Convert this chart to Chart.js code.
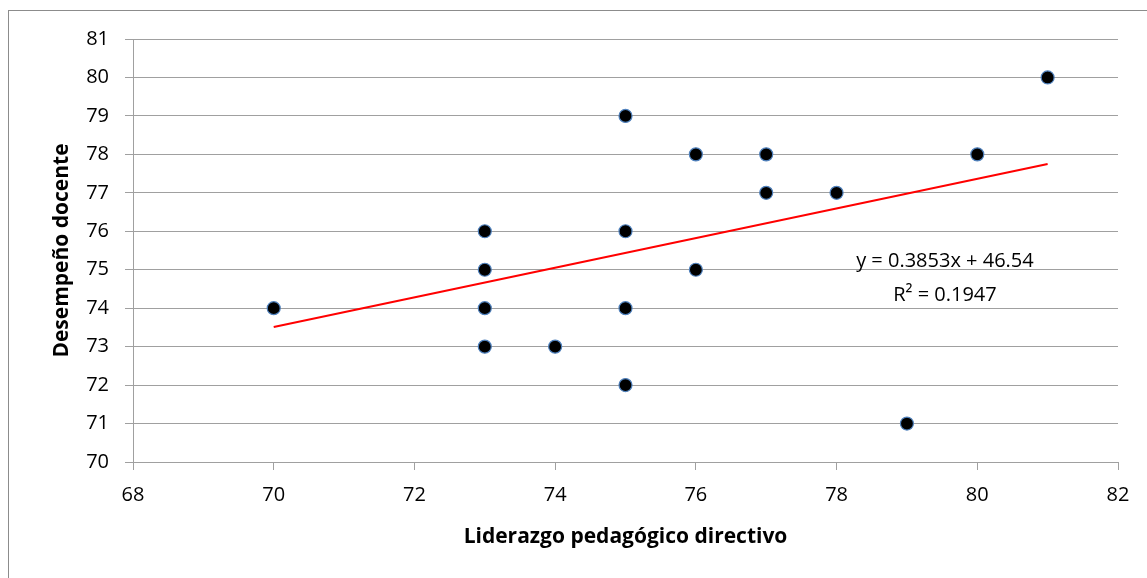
<!DOCTYPE html>
<html>
<head>
<meta charset="utf-8">
<script src="https://cdn.jsdelivr.net/npm/chart.js@4"></script>
<style>
  html, body { margin: 0; padding: 0; background: #fff; }
  #wrap { position: relative; width: 1147px; height: 578px; }
</style>
</head>
<body>
<div id="wrap"><canvas id="scatter-chart" width="1147" height="578"></canvas></div>
<script>
// Liderazgo pedagógico directivo (x) vs Desempeño docente (y)
const liderazgo = [70, 73, 73, 73, 73, 74, 75, 75, 75, 75, 76, 76, 77, 77, 78, 79, 80, 81];
const desempeno = [74, 76, 75, 74, 73, 73, 79, 76, 74, 72, 78, 75, 78, 77, 77, 71, 78, 80];
const xTicks = [68, 70, 72, 74, 76, 78, 80, 82];
const yTicks = [70, 71, 72, 73, 74, 75, 76, 77, 78, 79, 80, 81];
const slope = 0.3853;
const intercept = 46.54;
const r2 = 0.1947;

const FONT = "'Open Sans', 'Liberation Sans', sans-serif";
const GRID = '#a0a0a0';

const puntos = liderazgo.map((x, i) => ({ x: x, y: desempeno[i] }));
const xMin = Math.min(...liderazgo), xMax = Math.max(...liderazgo);
const tendencia = [xMin, xMax].map(x => ({ x: x, y: slope * x + intercept }));

const frameAndLabel = {
    id: 'frameAndLabel',
    beforeDraw(chart) {
        const ctx = chart.ctx;
        ctx.save();
        ctx.fillStyle = '#fff';
        ctx.fillRect(0, 0, chart.width, chart.height);
        ctx.strokeStyle = '#8c8c8c';
        ctx.lineWidth = 1;
        ctx.strokeRect(8.5, 10.5, chart.width + 20, chart.height + 20);
        ctx.restore();
    },
    afterDatasetsDraw(chart) {
        const ctx = chart.ctx;
        const xs = chart.scales.x, ys = chart.scales.y;
        const cx = xs.getPixelForValue(79.54);
        ctx.save();
        ctx.fillStyle = '#000';
        ctx.font = '20px ' + FONT;
        ctx.textAlign = 'center';
        ctx.textBaseline = 'middle';
        ctx.fillText('y = ' + slope + 'x + ' + intercept, cx, ys.getPixelForValue(75.22));
        ctx.fillText('R² = ' + r2, cx, ys.getPixelForValue(74.34));
        ctx.restore();
    }
};

const ctx = document.getElementById('scatter-chart').getContext('2d');
new Chart(ctx, {
    type: 'scatter',
    data: {
        datasets: [
            {
                label: 'Desempeño docente',
                data: puntos,
                backgroundColor: '#000',
                borderColor: '#4f81bd',
                borderWidth: 1.2,
                pointRadius: 6.5,
                order: 1
            },
            {
                label: 'Lineal',
                type: 'line',
                data: tendencia,
                borderColor: '#ff0000',
                borderWidth: 2,
                pointRadius: 0,
                fill: false,
                order: 0
            }
        ]
    },
    options: {
        responsive: false,
        animation: false,
        layout: { padding: { left: 0, top: 39, right: 29, bottom: 0 } },
        plugins: {
            legend: { display: false },
            tooltip: { enabled: false }
        },
        scales: {
            x: {
                type: 'linear',
                min: 68,
                max: 82,
                afterBuildTicks: s => { s.ticks = xTicks.map(v => ({ value: v })); },
                afterFit: s => { s.height = 116; },
                grid: {
                    drawOnChartArea: false,
                    drawTicks: true,
                    tickLength: 8,
                    color: GRID
                },
                border: { color: GRID },
                ticks: {
                    color: '#000',
                    padding: 13,
                    maxRotation: 0,
                    font: { family: FONT, size: 20 }
                },
                title: {
                    display: true,
                    text: 'Liderazgo pedagógico directivo',
                    color: '#000',
                    padding: { bottom: 28 },
                    font: { family: FONT, size: 21, weight: 'bold' }
                }
            },
            y: {
                type: 'linear',
                min: 70,
                max: 81,
                afterBuildTicks: s => { s.ticks = yTicks.map(v => ({ value: v })); },
                afterFit: s => { s.width = 133; },
                grid: {
                    drawTicks: true,
                    tickLength: 8,
                    color: GRID
                },
                border: { color: GRID },
                ticks: {
                    color: '#000',
                    padding: 16,
                    font: { family: FONT, size: 20 }
                },
                title: {
                    display: true,
                    text: 'Desempeño docente',
                    color: '#000',
                    padding: { top: 49 },
                    font: { family: FONT, size: 21, weight: 'bold' }
                }
            }
        }
    },
    plugins: [frameAndLabel]
});
</script>
</body>
</html>
